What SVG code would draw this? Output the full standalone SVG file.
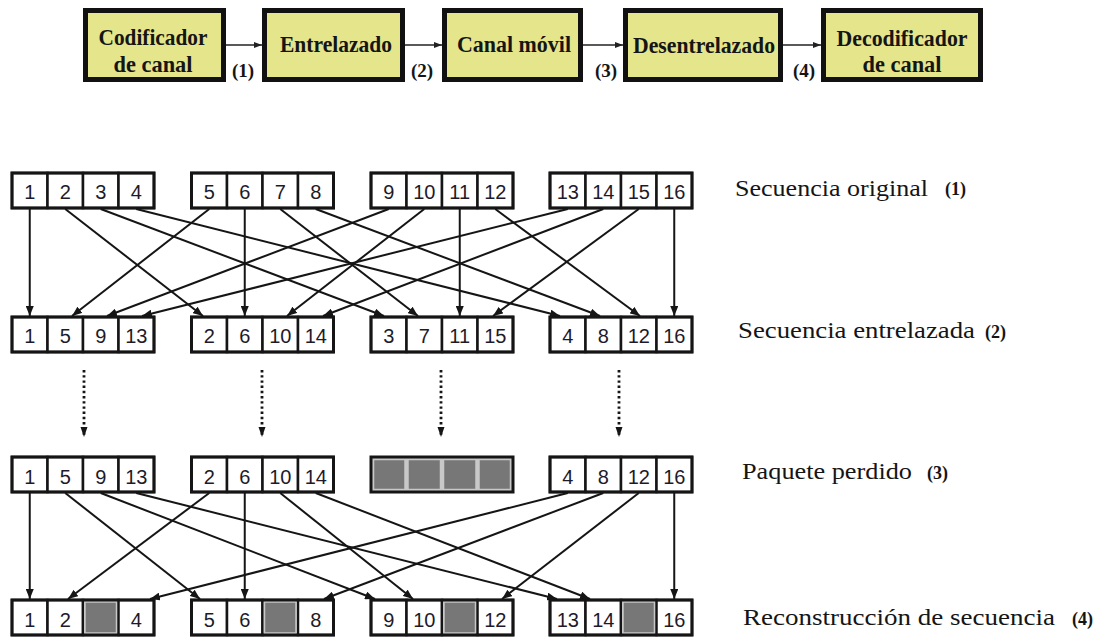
<svg xmlns="http://www.w3.org/2000/svg" width="1109" height="637" viewBox="0 0 1109 637">
  <style>
    .blk { fill: #e5e58c; stroke: #111; stroke-width: 5; }
    .blkt { font-family: "Liberation Serif", "Times New Roman", serif; font-weight: bold; font-size: 23px; fill: #151515; text-anchor: middle; }
    .tag { font-family: "Liberation Serif", "Times New Roman", serif; font-weight: bold; font-size: 19px; fill: #151515; text-anchor: middle; }
    .cell { fill: #fff; stroke: #151515; stroke-width: 2.5; }
    .frame { fill: none; stroke: #151515; stroke-width: 3; }
    .lost { fill: #777; stroke: #c8c8c8; stroke-width: 1.5; }
    .num { font-family: "Liberation Sans", Arial, sans-serif; font-size: 20px; fill: #1e1a2a; text-anchor: middle; }
    .lbl { font-family: "Liberation Serif", "Times New Roman", serif; font-size: 23px; fill: #151515; }
    .lbln { font-family: "Liberation Serif", "Times New Roman", serif; font-weight: bold; font-size: 18px; fill: #151515; }
    .flow { stroke: #222; stroke-width: 1.6; fill: none; marker-end: url(#headS); }
    .link { stroke: #151515; stroke-width: 2; fill: none; marker-end: url(#head); }
    .dots { stroke: #151515; stroke-width: 2.8; stroke-dasharray: 2.4 2.8; fill: none; marker-end: url(#headD); }
  </style>
  <defs>
    <marker id="head" markerUnits="userSpaceOnUse" markerWidth="10" markerHeight="8" refX="10" refY="4" orient="auto">
      <path d="M0,0 L10,4 L0,8 z" fill="#151515"/>
    </marker>
    <marker id="headS" markerUnits="userSpaceOnUse" markerWidth="8" markerHeight="6" refX="8" refY="3" orient="auto">
      <path d="M0,0 L8,3 L0,6 z" fill="#222"/>
    </marker>
    <marker id="headD" markerUnits="userSpaceOnUse" markerWidth="10" markerHeight="8" refX="10" refY="4" orient="auto">
      <path d="M0,0.5 L10,4 L0,7.5 z" fill="#151515"/>
    </marker>
  </defs>

  <rect width="1109" height="637" fill="#fff"/>

  <!-- Processing chain -->
  <g id="codificador">
    <rect class="blk" x="85.5" y="10.5" width="138" height="69"/>
    <text class="blkt" x="153" y="45" textLength="109" lengthAdjust="spacingAndGlyphs">Codificador</text>
    <text class="blkt" x="153" y="72" textLength="79" lengthAdjust="spacingAndGlyphs">de canal</text>
  </g>
  <g id="entrelazado">
    <rect class="blk" x="264.5" y="10.5" width="138" height="69"/>
    <text class="blkt" x="336" y="52" textLength="112" lengthAdjust="spacingAndGlyphs">Entrelazado</text>
  </g>
  <g id="canal">
    <rect class="blk" x="444.5" y="10.5" width="136" height="69"/>
    <text class="blkt" x="514" y="52" textLength="114" lengthAdjust="spacingAndGlyphs">Canal móvil</text>
  </g>
  <g id="desentrelazado">
    <rect class="blk" x="625.5" y="10.5" width="155" height="69"/>
    <text class="blkt" x="704" y="53" textLength="142" lengthAdjust="spacingAndGlyphs">Desentrelazado</text>
  </g>
  <g id="decodificador">
    <rect class="blk" x="823.5" y="10.5" width="157" height="69"/>
    <text class="blkt" x="902" y="46" textLength="131" lengthAdjust="spacingAndGlyphs">Decodificador</text>
    <text class="blkt" x="902" y="72" textLength="79" lengthAdjust="spacingAndGlyphs">de canal</text>
  </g>

  <g id="chain-links">
    <line class="flow" x1="226" y1="45" x2="262" y2="45"/>
    <line class="flow" x1="405" y1="45" x2="442" y2="45"/>
    <line class="flow" x1="583" y1="45" x2="623" y2="45"/>
    <line class="flow" x1="783" y1="45" x2="821" y2="45"/>
    <text class="tag" x="243" y="77">(1)</text>
    <text class="tag" x="422" y="77">(2)</text>
    <text class="tag" x="606" y="77">(3)</text>
    <text class="tag" x="804" y="77">(4)</text>
  </g>

  <!-- Row 1: original sequence -->
  <g id="row1">
    <g id="r1g1">
      <rect class="cell" x="12" y="173" width="35.5" height="35"/><rect class="cell" x="47.5" y="173" width="35.5" height="35"/><rect class="cell" x="83" y="173" width="35.5" height="35"/><rect class="cell" x="118.5" y="173" width="35.5" height="35"/>
      <rect class="frame" x="12" y="173" width="142" height="35"/>
      <text class="num" x="29.75" y="199">1</text><text class="num" x="65.25" y="199">2</text><text class="num" x="100.75" y="199">3</text><text class="num" x="136.25" y="199">4</text>
    </g>
    <g id="r1g2">
      <rect class="cell" x="191.5" y="173" width="35.5" height="35"/><rect class="cell" x="227" y="173" width="35.5" height="35"/><rect class="cell" x="262.5" y="173" width="35.5" height="35"/><rect class="cell" x="298" y="173" width="35.5" height="35"/>
      <rect class="frame" x="191.5" y="173" width="142" height="35"/>
      <text class="num" x="209.25" y="199">5</text><text class="num" x="244.75" y="199">6</text><text class="num" x="280.25" y="199">7</text><text class="num" x="315.75" y="199">8</text>
    </g>
    <g id="r1g3">
      <rect class="cell" x="371" y="173" width="35.5" height="35"/><rect class="cell" x="406.5" y="173" width="35.5" height="35"/><rect class="cell" x="442" y="173" width="35.5" height="35"/><rect class="cell" x="477.5" y="173" width="35.5" height="35"/>
      <rect class="frame" x="371" y="173" width="142" height="35"/>
      <text class="num" x="388.75" y="199">9</text><text class="num" x="424.25" y="199">10</text><text class="num" x="459.75" y="199">11</text><text class="num" x="495.25" y="199">12</text>
    </g>
    <g id="r1g4">
      <rect class="cell" x="550" y="173" width="35.5" height="35"/><rect class="cell" x="585.5" y="173" width="35.5" height="35"/><rect class="cell" x="621" y="173" width="35.5" height="35"/><rect class="cell" x="656.5" y="173" width="35.5" height="35"/>
      <rect class="frame" x="550" y="173" width="142" height="35"/>
      <text class="num" x="567.75" y="199">13</text><text class="num" x="603.25" y="199">14</text><text class="num" x="638.75" y="199">15</text><text class="num" x="674.25" y="199">16</text>
    </g>
  </g>

  <!-- Row 2: interleaved sequence -->
  <g id="row2">
    <g id="r2g1">
      <rect class="cell" x="12" y="317" width="35.5" height="35"/><rect class="cell" x="47.5" y="317" width="35.5" height="35"/><rect class="cell" x="83" y="317" width="35.5" height="35"/><rect class="cell" x="118.5" y="317" width="35.5" height="35"/>
      <rect class="frame" x="12" y="317" width="142" height="35"/>
      <text class="num" x="29.75" y="343">1</text><text class="num" x="65.25" y="343">5</text><text class="num" x="100.75" y="343">9</text><text class="num" x="136.25" y="343">13</text>
    </g>
    <g id="r2g2">
      <rect class="cell" x="191.5" y="317" width="35.5" height="35"/><rect class="cell" x="227" y="317" width="35.5" height="35"/><rect class="cell" x="262.5" y="317" width="35.5" height="35"/><rect class="cell" x="298" y="317" width="35.5" height="35"/>
      <rect class="frame" x="191.5" y="317" width="142" height="35"/>
      <text class="num" x="209.25" y="343">2</text><text class="num" x="244.75" y="343">6</text><text class="num" x="280.25" y="343">10</text><text class="num" x="315.75" y="343">14</text>
    </g>
    <g id="r2g3">
      <rect class="cell" x="371" y="317" width="35.5" height="35"/><rect class="cell" x="406.5" y="317" width="35.5" height="35"/><rect class="cell" x="442" y="317" width="35.5" height="35"/><rect class="cell" x="477.5" y="317" width="35.5" height="35"/>
      <rect class="frame" x="371" y="317" width="142" height="35"/>
      <text class="num" x="388.75" y="343">3</text><text class="num" x="424.25" y="343">7</text><text class="num" x="459.75" y="343">11</text><text class="num" x="495.25" y="343">15</text>
    </g>
    <g id="r2g4">
      <rect class="cell" x="550" y="317" width="35.5" height="35"/><rect class="cell" x="585.5" y="317" width="35.5" height="35"/><rect class="cell" x="621" y="317" width="35.5" height="35"/><rect class="cell" x="656.5" y="317" width="35.5" height="35"/>
      <rect class="frame" x="550" y="317" width="142" height="35"/>
      <text class="num" x="567.75" y="343">4</text><text class="num" x="603.25" y="343">8</text><text class="num" x="638.75" y="343">12</text><text class="num" x="674.25" y="343">16</text>
    </g>
  </g>

  <!-- Row 3: one packet lost in the channel -->
  <g id="row3">
    <g id="r3g1">
      <rect class="cell" x="12" y="457" width="35.5" height="35"/><rect class="cell" x="47.5" y="457" width="35.5" height="35"/><rect class="cell" x="83" y="457" width="35.5" height="35"/><rect class="cell" x="118.5" y="457" width="35.5" height="35"/>
      <rect class="frame" x="12" y="457" width="142" height="35"/>
      <text class="num" x="29.75" y="484">1</text><text class="num" x="65.25" y="484">5</text><text class="num" x="100.75" y="484">9</text><text class="num" x="136.25" y="484">13</text>
    </g>
    <g id="r3g2">
      <rect class="cell" x="191.5" y="457" width="35.5" height="35"/><rect class="cell" x="227" y="457" width="35.5" height="35"/><rect class="cell" x="262.5" y="457" width="35.5" height="35"/><rect class="cell" x="298" y="457" width="35.5" height="35"/>
      <rect class="frame" x="191.5" y="457" width="142" height="35"/>
      <text class="num" x="209.25" y="484">2</text><text class="num" x="244.75" y="484">6</text><text class="num" x="280.25" y="484">10</text><text class="num" x="315.75" y="484">14</text>
    </g>
    <g id="r3g3">
      <rect x="371" y="457" width="142" height="35" fill="#c8c8c8"/>
      <rect class="lost" x="373.5" y="459.5" width="31.5" height="30"/><rect class="lost" x="408" y="459.5" width="32.5" height="30"/><rect class="lost" x="443.5" y="459.5" width="32.5" height="30"/><rect class="lost" x="479" y="459.5" width="31.5" height="30"/>
      <rect class="frame" x="371" y="457" width="142" height="35"/>
    </g>
    <g id="r3g4">
      <rect class="cell" x="550" y="457" width="35.5" height="35"/><rect class="cell" x="585.5" y="457" width="35.5" height="35"/><rect class="cell" x="621" y="457" width="35.5" height="35"/><rect class="cell" x="656.5" y="457" width="35.5" height="35"/>
      <rect class="frame" x="550" y="457" width="142" height="35"/>
      <text class="num" x="567.75" y="484">4</text><text class="num" x="603.25" y="484">8</text><text class="num" x="638.75" y="484">12</text><text class="num" x="674.25" y="484">16</text>
    </g>
  </g>

  <!-- Row 4: reconstructed sequence -->
  <g id="row4">
    <g id="r4g1">
      <rect class="cell" x="12" y="600" width="35.5" height="35"/><rect class="cell" x="47.5" y="600" width="35.5" height="35"/><rect class="cell" x="83" y="600" width="35.5" height="35"/><rect class="cell" x="118.5" y="600" width="35.5" height="35"/>
      <rect class="lost" x="85" y="602" width="31.5" height="31"/>
      <rect class="frame" x="12" y="600" width="142" height="35"/>
      <text class="num" x="29.75" y="627">1</text><text class="num" x="65.25" y="627">2</text><text class="num" x="136.25" y="627">4</text>
    </g>
    <g id="r4g2">
      <rect class="cell" x="191.5" y="600" width="35.5" height="35"/><rect class="cell" x="227" y="600" width="35.5" height="35"/><rect class="cell" x="262.5" y="600" width="35.5" height="35"/><rect class="cell" x="298" y="600" width="35.5" height="35"/>
      <rect class="lost" x="264.5" y="602" width="31.5" height="31"/>
      <rect class="frame" x="191.5" y="600" width="142" height="35"/>
      <text class="num" x="209.25" y="627">5</text><text class="num" x="244.75" y="627">6</text><text class="num" x="315.75" y="627">8</text>
    </g>
    <g id="r4g3">
      <rect class="cell" x="371" y="600" width="35.5" height="35"/><rect class="cell" x="406.5" y="600" width="35.5" height="35"/><rect class="cell" x="442" y="600" width="35.5" height="35"/><rect class="cell" x="477.5" y="600" width="35.5" height="35"/>
      <rect class="lost" x="444" y="602" width="31.5" height="31"/>
      <rect class="frame" x="371" y="600" width="142" height="35"/>
      <text class="num" x="388.75" y="627">9</text><text class="num" x="424.25" y="627">10</text><text class="num" x="495.25" y="627">12</text>
    </g>
    <g id="r4g4">
      <rect class="cell" x="550" y="600" width="35.5" height="35"/><rect class="cell" x="585.5" y="600" width="35.5" height="35"/><rect class="cell" x="621" y="600" width="35.5" height="35"/><rect class="cell" x="656.5" y="600" width="35.5" height="35"/>
      <rect class="lost" x="623" y="602" width="31.5" height="31"/>
      <rect class="frame" x="550" y="600" width="142" height="35"/>
      <text class="num" x="567.75" y="627">13</text><text class="num" x="603.25" y="627">14</text><text class="num" x="674.25" y="627">16</text>
    </g>
  </g>

  <!-- Interleaving: row 1 to row 2 -->
  <g id="interleave-links">
    <line class="link" x1="29.75" y1="209" x2="29.75" y2="316"/>
    <line class="link" x1="65.25" y1="209" x2="203" y2="316"/>
    <line class="link" x1="100.75" y1="209" x2="384" y2="316"/>
    <line class="link" x1="136.25" y1="209" x2="560" y2="316"/>
    <line class="link" x1="209.25" y1="209" x2="72" y2="316"/>
    <line class="link" x1="244.75" y1="209" x2="244.75" y2="316"/>
    <line class="link" x1="280.25" y1="209" x2="418" y2="316"/>
    <line class="link" x1="315.75" y1="209" x2="600" y2="316"/>
    <line class="link" x1="388.75" y1="209" x2="107" y2="316"/>
    <line class="link" x1="424.25" y1="209" x2="287" y2="316"/>
    <line class="link" x1="459.75" y1="209" x2="459.75" y2="316"/>
    <line class="link" x1="495.25" y1="209" x2="640" y2="316"/>
    <line class="link" x1="567.75" y1="209" x2="142" y2="316"/>
    <line class="link" x1="603.25" y1="209" x2="323" y2="316"/>
    <line class="link" x1="638.75" y1="209" x2="493" y2="316"/>
    <line class="link" x1="674.25" y1="209" x2="674.25" y2="316"/>
  </g>

  <!-- Transmission over the channel -->
  <g id="channel-links">
    <line class="dots" x1="84" y1="370" x2="84" y2="437"/>
    <line class="dots" x1="262" y1="370" x2="262" y2="437"/>
    <line class="dots" x1="441" y1="370" x2="441" y2="437"/>
    <line class="dots" x1="619" y1="370" x2="619" y2="437"/>
  </g>

  <!-- De-interleaving: row 3 to row 4 -->
  <g id="deinterleave-links">
    <line class="link" x1="29.75" y1="493" x2="29.75" y2="599"/>
    <line class="link" x1="65.25" y1="493" x2="200" y2="599"/>
    <line class="link" x1="100.75" y1="493" x2="375" y2="599"/>
    <line class="link" x1="136.25" y1="493" x2="557" y2="599"/>
    <line class="link" x1="209.25" y1="493" x2="68" y2="599"/>
    <line class="link" x1="244.75" y1="493" x2="244.75" y2="599"/>
    <line class="link" x1="280.25" y1="493" x2="413" y2="599"/>
    <line class="link" x1="315.75" y1="493" x2="590" y2="599"/>
    <line class="link" x1="567.75" y1="493" x2="150" y2="599"/>
    <line class="link" x1="603.25" y1="493" x2="324" y2="599"/>
    <line class="link" x1="638.75" y1="493" x2="502" y2="599"/>
    <line class="link" x1="674.25" y1="493" x2="674.25" y2="599"/>
  </g>

  <!-- Row captions -->
  <g id="captions">
    <text class="lbl" x="735" y="196" textLength="193" lengthAdjust="spacingAndGlyphs">Secuencia original</text>
    <text class="lbln" x="945" y="195">(1)</text>
    <text class="lbl" x="738" y="338" textLength="237" lengthAdjust="spacingAndGlyphs">Secuencia entrelazada</text>
    <text class="lbln" x="985" y="338">(2)</text>
    <text class="lbl" x="742" y="479" textLength="170" lengthAdjust="spacingAndGlyphs">Paquete perdido</text>
    <text class="lbln" x="927" y="479">(3)</text>
    <text class="lbl" x="743" y="625" textLength="312" lengthAdjust="spacingAndGlyphs">Reconstrucción de secuencia</text>
    <text class="lbln" x="1072" y="625">(4)</text>
  </g>
</svg>
